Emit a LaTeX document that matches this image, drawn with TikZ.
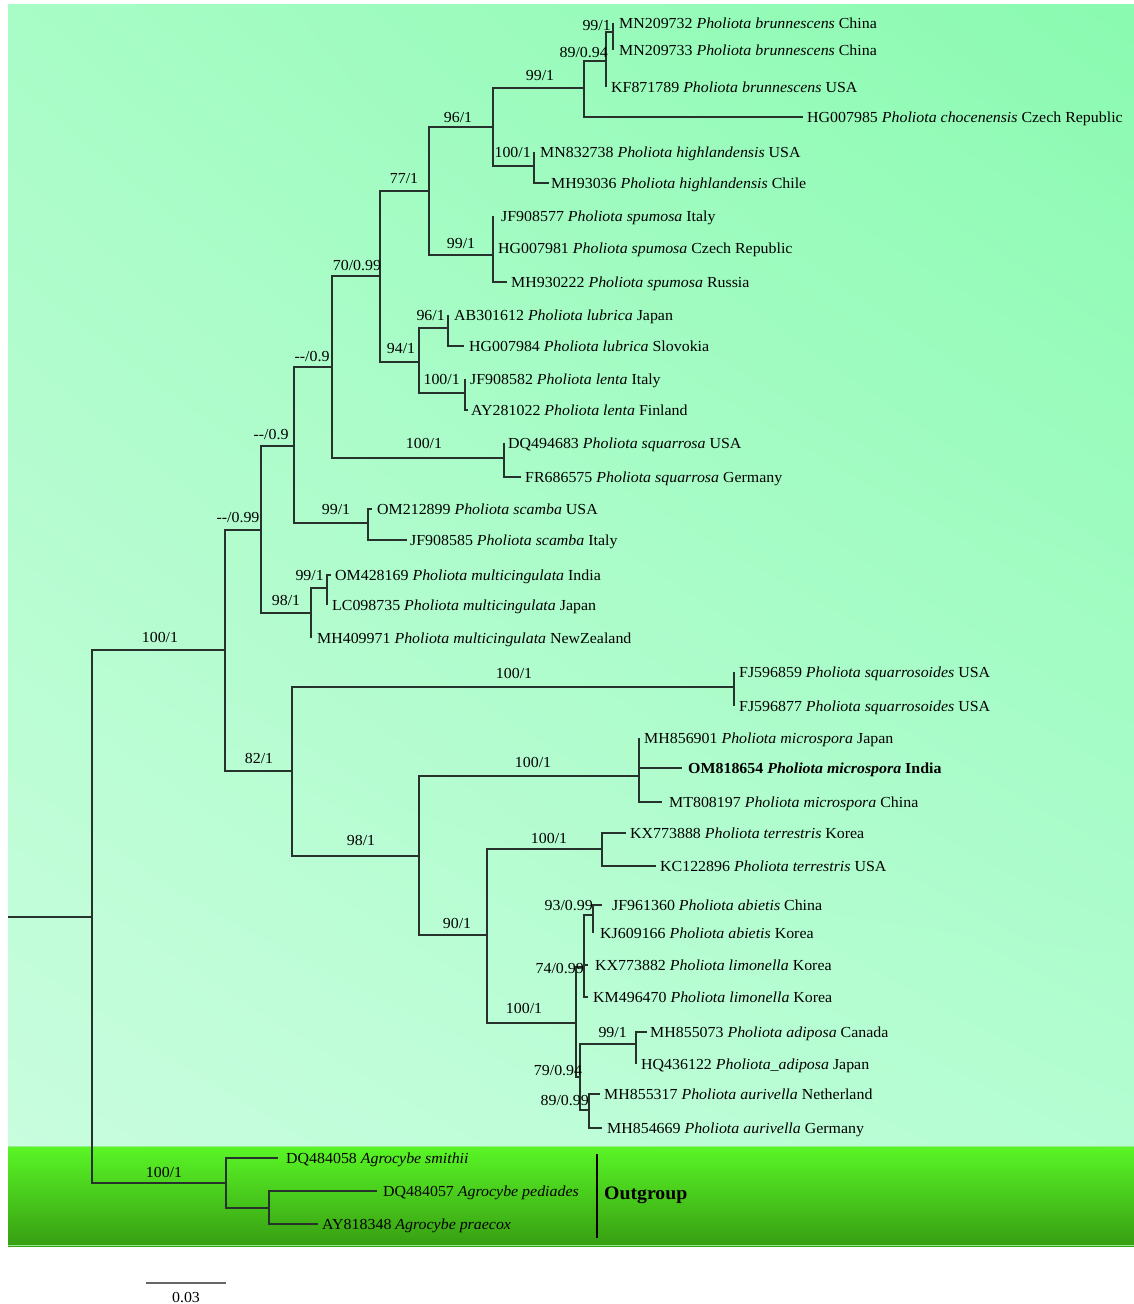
\documentclass[tikz,border=0pt]{standalone}
\usepackage{fontspec}
\usetikzlibrary{shadings}
\setmainfont{Liberation Serif}[FakeStretch=1.04]
\definecolor{bgUL}{RGB}{168,252,198}
\definecolor{bgUR}{RGB}{138,250,176}
\definecolor{bgLL}{RGB}{200,253,222}
\definecolor{bgLR}{RGB}{180,253,210}
\definecolor{ogTop}{RGB}{90,246,38}
\definecolor{ogMid}{RGB}{72,220,28}
\definecolor{ogBot}{RGB}{55,158,18}
\definecolor{ogEdge}{RGB}{150,235,140}
\definecolor{treeline}{RGB}{40,50,44}
\tikzset{
  br/.style={draw=treeline, line width=1.2pt},
  leaflab/.style={anchor=base west, inner sep=0pt, text=black},
  suppc/.style={anchor=base, inner sep=0pt, text=black},
  suppe/.style={anchor=base east, inner sep=0pt, text=black},
}
\newcommand\myleaf[5]{\coordinate (t#1) at (#2,#3); \node[leaflab] (l#1) at (#4,#3+5) {#5};}
\newcommand\mysupc[4]{\node[suppc] (#1) at (#2,#3+5) {#4};}
\newcommand\mysupe[4]{\node[suppe] (#1) at (#2,#3+5) {#4};}
\newcommand\Ph[1]{\textit{Pholiota #1}}
\begin{document}
\begin{tikzpicture}[x=1pt,y=-1pt,font=\fontsize{15.3}{18}\selectfont]
\useasboundingbox (0,0) rectangle (1134,1304);
\fill[white] (0,0) rectangle (1134,1304);
% backgrounds
\shade[upper left=bgUL, upper right=bgUR, lower left=bgLL, lower right=bgLR] (8,4) rectangle (1134,1146);
\shade[top color=ogTop, middle color=ogMid, bottom color=ogBot] (8,1146) rectangle (1134,1246);
\draw[ogEdge, line width=1pt] (8,1146.5) -- (1134,1146.5);
\draw[ogEdge, line width=1pt] (8,1245.5) -- (1134,1245.5);

% internal nodes
\coordinate (r0) at (8,917);
\coordinate (root) at (92,917);
\coordinate (nA) at (225,650);
\coordinate (nB) at (261,530);
\coordinate (nD) at (294,446);
\coordinate (nF) at (332,367);
\coordinate (nG) at (380,276);
\coordinate (nH) at (429,191);
\coordinate (nI) at (493,127);
\coordinate (nJ) at (584,88);
\coordinate (nK) at (606,61);
\coordinate (nL) at (613,32);
\coordinate (nHI) at (534,166);
\coordinate (nSP) at (493,255);
\coordinate (nLL) at (419,362);
\coordinate (nLU) at (448,328);
\coordinate (nLE) at (465,393);
\coordinate (nSQ) at (504,458);
\coordinate (nSC) at (368,523);
\coordinate (nE) at (311,613);
\coordinate (nM) at (327,588);
\coordinate (nC) at (292,771);
\coordinate (nN) at (734,687);
\coordinate (nO) at (419,856);
\coordinate (nP) at (639,776);
\coordinate (nQ) at (487,935);
\coordinate (nR) at (602,849);
\coordinate (nS) at (576,1023);
\coordinate (nT) at (584,967);
\coordinate (nV) at (593,915);
\coordinate (nU) at (580,1077);
\coordinate (nW) at (636,1044);
\coordinate (nX) at (589,1110);
\coordinate (nOG) at (226,1183);
\coordinate (nY) at (269,1208);

% leaves
\myleaf{MN209732}{613}{23}{619}{MN209732 \Ph{brunnescens} China}
\myleaf{MN209733}{613}{50}{619}{MN209733 \Ph{brunnescens} China}
\myleaf{KF871789}{606}{87}{611}{KF871789 \Ph{brunnescens} USA}
\myleaf{HG007985}{803}{117}{807}{HG007985 \Ph{chocenensis} Czech Republic}
\myleaf{MN832738}{534}{152}{540}{MN832738 \Ph{highlandensis} USA}
\myleaf{MH93036}{549}{183}{551}{MH93036 \Ph{highlandensis} Chile}
\myleaf{JF908577}{493}{216}{501}{JF908577 \Ph{spumosa} Italy}
\myleaf{HG007981}{493}{248}{498}{HG007981 \Ph{spumosa} Czech Republic}
\myleaf{MH930222}{507}{282}{511}{MH930222 \Ph{spumosa} Russia}
\myleaf{AB301612}{448}{315}{454}{AB301612 \Ph{lubrica} Japan}
\myleaf{HG007984}{464}{346}{469}{HG007984 \Ph{lubrica} Slovokia}
\myleaf{JF908582}{465}{379}{470}{JF908582 \Ph{lenta} Italy}
\myleaf{AY281022}{468}{410}{471}{AY281022 \Ph{lenta} Finland}
\myleaf{DQ494683}{504}{443}{508}{DQ494683 \Ph{squarrosa} USA}
\myleaf{FR686575}{521}{477}{525}{FR686575 \Ph{squarrosa} Germany}
\myleaf{OM212899}{372}{509}{377}{OM212899 \Ph{scamba} USA}
\myleaf{JF908585}{407}{540}{410}{JF908585 \Ph{scamba} Italy}
\myleaf{OM428169}{331}{575}{335}{OM428169 \Ph{multicingulata} India}
\myleaf{LC098735}{327}{605}{332}{LC098735 \Ph{multicingulata} Japan}
\myleaf{MH409971}{311}{638}{317}{MH409971 \Ph{multicingulata} NewZealand}
\myleaf{FJ596859}{734}{672}{739}{FJ596859 \Ph{squarrosoides} USA}
\myleaf{FJ596877}{734}{706}{739}{FJ596877 \Ph{squarrosoides} USA}
\myleaf{MH856901}{639}{738}{644}{MH856901 \Ph{microspora} Japan}
\myleaf{OM818654}{682}{768}{688}{\textbf{OM818654 \Ph{microspora} India}}
\myleaf{MT808197}{662}{802}{669}{MT808197 \Ph{microspora} China}
\myleaf{KX773888}{626}{833}{630}{KX773888 \Ph{terrestris} Korea}
\myleaf{KC122896}{656}{866}{660}{KC122896 \Ph{terrestris} USA}
\myleaf{JF961360}{602}{905}{612}{JF961360 \Ph{abietis} China}
\myleaf{KJ609166}{593}{933}{600}{KJ609166 \Ph{abietis} Korea}
\myleaf{KX773882}{588}{965}{595}{KX773882 \Ph{limonella} Korea}
\myleaf{KM496470}{588}{997}{593}{KM496470 \Ph{limonella} Korea}
\myleaf{MH855073}{647}{1032}{650}{MH855073 \Ph{adiposa} Canada}
\myleaf{HQ436122}{636}{1064}{641}{HQ436122 \textit{Pholiota\_adiposa} Japan}
\myleaf{MH855317}{600}{1094}{604}{MH855317 \Ph{aurivella} Netherland}
\myleaf{MH854669}{602}{1128}{607}{MH854669 \Ph{aurivella} Germany}
\myleaf{DQ484058}{278}{1158}{286}{DQ484058 \textit{Agrocybe smithii}}
\myleaf{DQ484057}{377}{1191}{383}{DQ484057 \textit{Agrocybe pediades}}
\myleaf{AY818348}{318}{1224}{322}{AY818348 \textit{Agrocybe praecox}}

% branches
\draw[br] (r0) -- (root);
\draw[br] (root) |- (nA);  \draw[br] (root) |- (nOG);
\draw[br] (nA) |- (nB);    \draw[br] (nA) |- (nC);
\draw[br] (nB) |- (nD);    \draw[br] (nB) |- (nE);
\draw[br] (nD) |- (nF);    \draw[br] (nD) |- (nSC);
\draw[br] (nF) |- (nG);    \draw[br] (nF) |- (nSQ);
\draw[br] (nG) |- (nH);    \draw[br] (nG) |- (nLL);
\draw[br] (nH) |- (nI);    \draw[br] (nH) |- (nSP);
\draw[br] (nI) |- (nJ);    \draw[br] (nI) |- (nHI);
\draw[br] (nJ) |- (nK);    \draw[br] (nJ) |- (tHG007985);
\draw[br] (nK) |- (nL);    \draw[br] (nK) |- (tKF871789);
\draw[br] (nL) |- (tMN209732); \draw[br] (nL) |- (tMN209733);
\draw[br] (nHI) |- (tMN832738); \draw[br] (nHI) |- (tMH93036);
\draw[br] (nSP) |- (tJF908577); \draw[br] (nSP) |- (tHG007981); \draw[br] (nSP) |- (tMH930222);
\draw[br] (nLL) |- (nLU);  \draw[br] (nLL) |- (nLE);
\draw[br] (nLU) |- (tAB301612); \draw[br] (nLU) |- (tHG007984);
\draw[br] (nLE) |- (tJF908582); \draw[br] (nLE) |- (tAY281022);
\draw[br] (nSQ) |- (tDQ494683); \draw[br] (nSQ) |- (tFR686575);
\draw[br] (nSC) |- (tOM212899); \draw[br] (nSC) |- (tJF908585);
\draw[br] (nE) |- (nM);    \draw[br] (nE) |- (tMH409971);
\draw[br] (nM) |- (tOM428169); \draw[br] (nM) |- (tLC098735);
\draw[br] (nC) |- (nN);    \draw[br] (nC) |- (nO);
\draw[br] (nN) |- (tFJ596859); \draw[br] (nN) |- (tFJ596877);
\draw[br] (nO) |- (nP);    \draw[br] (nO) |- (nQ);
\draw[br] (nP) |- (tMH856901); \draw[br] (nP) |- (tOM818654); \draw[br] (nP) |- (tMT808197);
\draw[br] (nQ) |- (nR);    \draw[br] (nQ) |- (nS);
\draw[br] (nR) |- (tKX773888); \draw[br] (nR) |- (tKC122896);
\draw[br] (nS) |- (nT);    \draw[br] (nS) |- (nU);
\draw[br] (nT) |- (nV);    \draw[br] (nT) |- (tKX773882); \draw[br] (nT) |- (tKM496470);
\draw[br] (nV) |- (tJF961360); \draw[br] (nV) |- (tKJ609166);
\draw[br] (nU) |- (nW);    \draw[br] (nU) |- (nX);
\draw[br] (nW) |- (tMH855073); \draw[br] (nW) |- (tHQ436122);
\draw[br] (nX) |- (tMH855317); \draw[br] (nX) |- (tMH854669);
\draw[br] (nOG) |- (tDQ484058); \draw[br] (nOG) |- (nY);
\draw[br] (nY) |- (tDQ484057); \draw[br] (nY) |- (tAY818348);

% support values
\mysupc{sA}{160}{637}{100/1}
\mysupc{sB}{238}{517}{-{}-/0.99}
\mysupc{sD}{271}{434}{-{}-/0.9}
\mysupc{sF}{312}{356}{-{}-/0.9}
\mysupc{sG}{357}{265}{70/0.99}
\mysupc{sH}{404}{178}{77/1}
\mysupc{sI}{458}{117}{96/1}
\mysupc{sJ}{540}{75}{99/1}
\mysupe{sK}{608}{52}{89/0.94}
\mysupe{sL}{611}{25}{99/1}
\mysupe{sHI}{531}{152}{100/1}
\mysupc{sSP}{461}{243}{99/1}
\mysupc{sLL}{401}{348}{94/1}
\mysupe{sLU}{445}{315}{96/1}
\mysupe{sLE}{460}{379}{100/1}
\mysupc{sSQ}{424}{443}{100/1}
\mysupc{sSC}{336}{509}{99/1}
\mysupc{sE}{286}{600}{98/1}
\mysupe{sM}{324}{575}{99/1}
\mysupc{sC}{259}{758}{82/1}
\mysupc{sN}{514}{673}{100/1}
\mysupc{sO}{361}{840}{98/1}
\mysupc{sP}{533}{762}{100/1}
\mysupc{sQ}{457}{923}{90/1}
\mysupc{sR}{549}{838}{100/1}
\mysupc{sS}{524}{1008}{100/1}
\mysupe{sT}{584}{968}{74/0.99}
\mysupe{sV}{593}{905}{93/0.99}
\mysupc{sU}{558}{1070}{79/0.94}
\mysupe{sW}{627}{1032}{99/1}
\mysupe{sX}{589}{1100}{89/0.99}
\mysupc{sOG}{164}{1172}{100/1}

% outgroup bar and label
\coordinate (barTop) at (597,1154);
\coordinate (barBot) at (597,1238);
\draw[black, line width=2pt] (barTop) -- (barBot);
\node[anchor=west, inner sep=0pt, font=\fontsize{19}{22}\selectfont\bfseries] (og) at (604,1195) {Outgroup};

% scale bar
\coordinate (sbL) at (146,1283);
\coordinate (sbR) at (226,1283);
\draw[black!60, line width=1.3pt] (sbL) -- (sbR);
\node[suppc] (sbLab) at (186,1302) {0.03};
\end{tikzpicture}
\end{document}
